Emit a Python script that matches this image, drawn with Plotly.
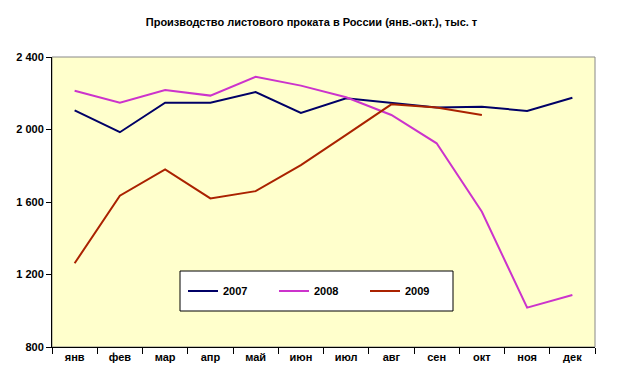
import plotly.graph_objects as go

months = ["янв", "фев", "мар", "апр", "май", "июн", "июл", "авг", "сен", "окт", "ноя", "дек"]
s2007 = [2105, 1985, 2148, 2148, 2207, 2091, 2172, 2145, 2122, 2126, 2102, 2175]
s2008 = [2214, 2148, 2218, 2187, 2291, 2242, 2178, 2080, 1924, 1546, 1017, 1087]
s2009 = [1262, 1635, 1780, 1620, 1660, 1804, 1970, 2139, 2122, 2080]
yticks = [800, 1200, 1600, 2000, 2400]
ytick_text = ["<b>800</b>", "<b>1 200</b>", "<b>1 600</b>", "<b>2 000</b>", "<b>2 400</b>"]

fig = go.Figure()
fig.add_trace(go.Scatter(x=months, y=s2007, name="<b>2007</b>", mode="lines",
                         line=dict(color="#000066", width=2)))
fig.add_trace(go.Scatter(x=months, y=s2008, name="<b>2008</b>", mode="lines",
                         line=dict(color="#CC33CC", width=2)))
fig.add_trace(go.Scatter(x=months[:len(s2009)], y=s2009, name="<b>2009</b>", mode="lines",
                         line=dict(color="#AA2200", width=2)))

font = "Liberation Sans, Arial, sans-serif"
fig.update_layout(
    width=623, height=387,
    margin=dict(l=52, r=28, t=57, b=40, autoexpand=False),
    paper_bgcolor="white",
    plot_bgcolor="#FFFFCC",
    title=dict(text="<b>Производство листового проката в России (янв.-окт.), тыс. т</b>",
               x=0.5, xanchor="center", y=0.942, yanchor="middle",
               font=dict(family=font, size=11, color="black")),
    xaxis=dict(type="category", categoryorder="array", categoryarray=months,
               tickvals=months, ticktext=["<b>" + m + "</b>" for m in months],
               showgrid=False, ticks="outside", tickson="boundaries", ticklen=6,
               tickcolor="black", linecolor="black", showline=True, mirror=False,
               range=[-0.5, 11.5], automargin=False,
               tickfont=dict(family=font, size=11, color="black"), zeroline=False),
    yaxis=dict(range=[800, 2400], tickvals=yticks, ticktext=ytick_text,
               showgrid=False, ticks="outside", ticklen=5, tickcolor="black",
               linecolor="black", showline=True, zeroline=False, automargin=False,
               tickfont=dict(family=font, size=11, color="black")),
    legend=dict(orientation="h", x=(183 - 52) / 543, y=(347 - 291) / 290,
                xanchor="left", yanchor="middle",
                bgcolor="rgba(0,0,0,0)", borderwidth=0,
                entrywidth=46, entrywidthmode="pixels", itemwidth=30,
                font=dict(family=font, size=11, color="black")),
    shapes=[
        dict(type="rect", xref="paper", yref="paper", x0=0, x1=1, y0=0, y1=1,
             line=dict(color="#888888", width=1), layer="below"),
        dict(type="rect", xref="paper", yref="paper",
             x0=(180 - 52) / 543, x1=(453 - 52) / 543,
             y0=(347 - 311) / 290, y1=(347 - 271) / 290,
             line=dict(color="black", width=1), fillcolor="white", layer="above"),
    ],
)
fig.write_html("out.html", config={"displayModeBar": False},
               post_script="document.body.style.margin='0px';")
